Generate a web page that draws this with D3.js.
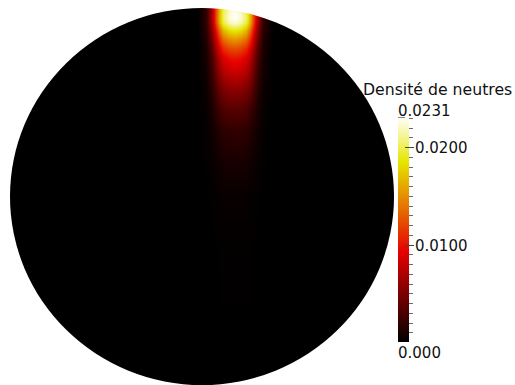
<!DOCTYPE html>
<html>
<head>
<meta charset="utf-8">
<script src="https://cdn.jsdelivr.net/npm/d3@7"></script>
<style>
html,body{margin:0;padding:0;background:#fff;}
svg{display:block;}
</style>
</head>
<body>
<svg id="chart" width="515" height="385"></svg>
<script>
// ---- data ----
const title = "Densité de neutres";
const rangeMin = 0.0;
const rangeMax = 0.0231;
const majorTicks = [0.01, 0.02];
const majorTickLabels = ["0.0100", "0.0200"];
const minLabel = "0.000";
const maxLabel = "0.0231";
const minorTicks = [0.001,0.002,0.003,0.004,0.005,0.006,0.007,0.008,0.009,
                    0.011,0.012,0.013,0.014,0.015,0.016,0.017,0.018,0.019,
                    0.021,0.022,0.023];
// colour map (Black-Body Radiation), positions as fraction of range
const cmapPos = [0, 0.4, 0.8, 1];
const cmapColors = ["#000000", "#e60000", "#e6e600", "#ffffff"];
// density grid on the unit disk: columns x (left->right), rows y (top->bottom)
const gridX = [-0.018, 0.022, 0.052, 0.072, 0.092, 0.112, 0.142, 0.172, 0.202, 0.232, 0.252, 0.272, 0.292, 0.322, 0.362];
const gridY = [1.00, 0.95, 0.92, 0.88, 0.83, 0.78, 0.73, 0.67, 0.56, 0.46, 0.35, 0.19, 0.00, -0.30, -1.00];
const density = [
  [0.0002,0.0018,0.0063,0.0113,0.0163,0.0199,0.0219,0.0226,0.0219,0.0199,0.0163,0.0113,0.0063,0.0018,0.0002],
  [0.0002,0.0018,0.0065,0.0116,0.0166,0.0203,0.0224,0.0231,0.0224,0.0203,0.0166,0.0116,0.0065,0.0018,0.0002],
  [0.0002,0.0018,0.0063,0.0112,0.0161,0.0197,0.0217,0.0224,0.0217,0.0197,0.0161,0.0112,0.0063,0.0018,0.0002],
  [0.0002,0.0015,0.0053,0.0094,0.0135,0.0165,0.0182,0.0188,0.0182,0.0165,0.0135,0.0094,0.0053,0.0015,0.0002],
  [0.0002,0.0012,0.0043,0.0076,0.0109,0.0134,0.0147,0.0152,0.0147,0.0134,0.0109,0.0076,0.0043,0.0012,0.0002],
  [0.0001,0.0010,0.0034,0.0061,0.0088,0.0107,0.0118,0.0122,0.0118,0.0107,0.0088,0.0061,0.0034,0.0010,0.0001],
  [0.0001,0.0008,0.0028,0.0050,0.0071,0.0087,0.0096,0.0099,0.0096,0.0087,0.0071,0.0050,0.0028,0.0008,0.0001],
  [0.0001,0.0007,0.0024,0.0042,0.0060,0.0074,0.0081,0.0084,0.0081,0.0074,0.0060,0.0042,0.0024,0.0007,0.0001],
  [0.0001,0.0004,0.0015,0.0028,0.0040,0.0048,0.0053,0.0055,0.0053,0.0048,0.0040,0.0028,0.0015,0.0004,0.0001],
  [0.0000,0.0003,0.0010,0.0018,0.0025,0.0031,0.0034,0.0035,0.0034,0.0031,0.0025,0.0018,0.0010,0.0003,0.0000],
  [0.0000,0.0002,0.0006,0.0010,0.0014,0.0018,0.0019,0.0020,0.0019,0.0018,0.0014,0.0010,0.0006,0.0002,0.0000],
  [0.0000,0.0001,0.0003,0.0005,0.0007,0.0009,0.0010,0.0010,0.0010,0.0009,0.0007,0.0005,0.0003,0.0001,0.0000],
  [0.0000,0.0000,0.0001,0.0002,0.0002,0.0003,0.0003,0.0003,0.0003,0.0003,0.0002,0.0002,0.0001,0.0000,0.0000],
  [0.0000,0.0000,0.0000,0.0000,0.0001,0.0001,0.0001,0.0001,0.0001,0.0001,0.0001,0.0000,0.0000,0.0000,0.0000],
  [0.0000,0.0000,0.0000,0.0000,0.0000,0.0000,0.0000,0.0000,0.0000,0.0000,0.0000,0.0000,0.0000,0.0000,0.0000]
];

// ---- scales ----
const W = 515, H = 385;
const xScale = d3.scaleLinear().domain([-1, 1]).range([10, 394]);
const yScale = d3.scaleLinear().domain([-1, 1]).range([385, 8]);
const color = d3.scaleLinear()
  .domain(cmapPos.map(p => rangeMin + p * (rangeMax - rangeMin)))
  .range(cmapColors)
  .clamp(true);

function sample(u, v) {
  if (u <= gridX[0] || u >= gridX[gridX.length - 1]) return 0;
  const i = d3.bisectRight(gridX, u) - 1;
  let j = -1;
  for (let k = 0; k < gridY.length - 1; k++) {
    if (v <= gridY[k] && v >= gridY[k + 1]) { j = k; break; }
  }
  if (j < 0) j = 0;
  const tx = (u - gridX[i]) / (gridX[i + 1] - gridX[i]);
  const ty = (gridY[j] - v) / (gridY[j] - gridY[j + 1]);
  const a = density[j][i], b = density[j][i + 1];
  const c = density[j + 1][i], d = density[j + 1][i + 1];
  return (a * (1 - tx) + b * tx) * (1 - ty) + (c * (1 - tx) + d * tx) * ty;
}

// ---- render field into an offscreen canvas ----
const x0 = Math.floor(xScale(-1)), x1 = Math.ceil(xScale(1));
const y0 = Math.floor(yScale(1)), y1 = Math.ceil(yScale(-1));
const cw = x1 - x0, ch = y1 - y0;
const cnv = document.createElement("canvas");
cnv.width = cw; cnv.height = ch;
const ctx = cnv.getContext("2d");
const img = ctx.createImageData(cw, ch);
for (let py = 0; py < ch; py++) {
  const v = yScale.invert(y0 + py + 0.5);
  for (let px = 0; px < cw; px++) {
    const u = xScale.invert(x0 + px + 0.5);
    const c = d3.rgb(color(sample(u, v)));
    const k = (py * cw + px) * 4;
    img.data[k] = c.r; img.data[k + 1] = c.g; img.data[k + 2] = c.b; img.data[k + 3] = 255;
  }
}
ctx.putImageData(img, 0, 0);

const svg = d3.select("#chart");
const defs = svg.append("defs");
defs.append("clipPath").attr("id", "disk")
  .append("ellipse")
  .attr("cx", xScale(0)).attr("cy", yScale(0))
  .attr("rx", (xScale(1) - xScale(-1)) / 2)
  .attr("ry", (yScale(-1) - yScale(1)) / 2);

svg.append("image")
  .attr("x", x0).attr("y", y0).attr("width", cw).attr("height", ch)
  .attr("preserveAspectRatio", "none")
  .attr("href", cnv.toDataURL())
  .attr("clip-path", "url(#disk)");

// ---- colour bar ----
const barX = 398, barW = 11;
const barScale = d3.scaleLinear().domain([rangeMin, rangeMax]).range([342, 117]);
const grad = defs.append("linearGradient").attr("id", "cbar")
  .attr("x1", 0).attr("y1", 1).attr("x2", 0).attr("y2", 0);
d3.range(0, 41).forEach(i => {
  const t = i / 40;
  grad.append("stop").attr("offset", t)
    .attr("stop-color", color(rangeMin + t * (rangeMax - rangeMin)));
});
svg.append("rect")
  .attr("x", barX).attr("y", barScale(rangeMax))
  .attr("width", barW).attr("height", barScale(rangeMin) - barScale(rangeMax))
  .attr("fill", "url(#cbar)");

const tickG = svg.append("g").attr("stroke", "#6a6a6a").attr("stroke-width", 1);
tickG.selectAll("line.minor").data(minorTicks).enter().append("line")
  .attr("class", "minor")
  .attr("x1", barX + barW).attr("x2", barX + barW + 4)
  .attr("y1", d => Math.round(barScale(d)) + 0.5)
  .attr("y2", d => Math.round(barScale(d)) + 0.5);
tickG.selectAll("line.major").data(majorTicks).enter().append("line")
  .attr("class", "major")
  .attr("stroke", "#444")
  .attr("x1", barX + 7).attr("x2", barX + barW + 5)
  .attr("y1", d => Math.round(barScale(d)) + 0.5)
  .attr("y2", d => Math.round(barScale(d)) + 0.5);
tickG.append("line")
  .attr("stroke", "#888")
  .attr("x1", barX).attr("x2", barX + 7)
  .attr("y1", Math.round(barScale(rangeMax)) + 0.5)
  .attr("y2", Math.round(barScale(rangeMax)) + 0.5);

const font = "'DejaVu Sans', sans-serif";
svg.selectAll("text.major").data(majorTicks).enter().append("text")
  .attr("class", "major")
  .attr("x", barX + barW + 6)
  .attr("y", (d) => barScale(d) + 6)
  .attr("font-family", font).attr("font-size", 15)
  .attr("fill", "#111")
  .text((d, i) => majorTickLabels[i]);

svg.append("text").attr("x", barX).attr("y", 115.5)
  .attr("font-family", font).attr("font-size", 15).attr("fill", "#111")
  .text(maxLabel);
svg.append("text").attr("x", barX).attr("y", 358.3)
  .attr("font-family", font).attr("font-size", 15).attr("fill", "#111")
  .text(minLabel);
svg.append("text").attr("x", 363).attr("y", 95)
  .attr("font-family", font).attr("font-size", 15.7).attr("fill", "#111")
  .text(title);
</script>
</body>
</html>
